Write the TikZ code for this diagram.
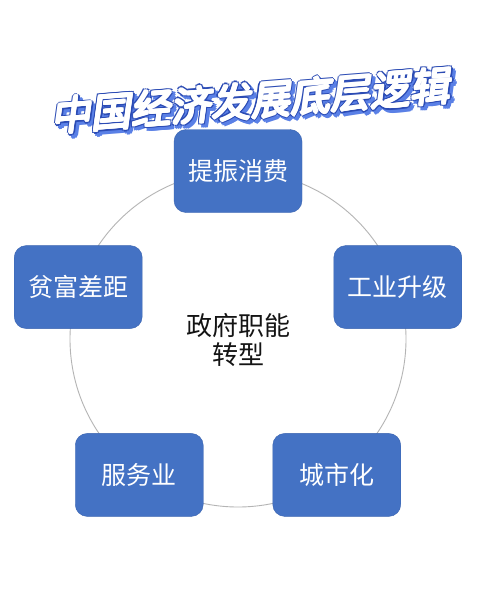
\documentclass[tikz,border=0pt]{standalone}
\usepackage{fontspec}
\usetikzlibrary{calc}
\newfontfamily\cjk{Noto Sans CJK SC}
\newfontfamily\cjktitle[FakeSlant=0.22]{Noto Sans CJK SC}
\definecolor{boxfill}{HTML}{4472C4}
\definecolor{boxborder}{HTML}{3A64B0}
\definecolor{ringgray}{HTML}{B4B4B4}
\definecolor{titleblue}{HTML}{5A80E6}
\definecolor{titlerim}{HTML}{2B4BB4}
\definecolor{centerink}{HTML}{141414}

\begin{document}
\begin{tikzpicture}[x=1pt, y=-1pt,
  box/.style={draw=boxborder, fill=boxfill, rounded corners=12pt, text=white,
    minimum width=128pt, minimum height=83pt, inner sep=0pt,
    font=\cjk\fontsize{25}{29}\selectfont},
  hub/.style={text=centerink, align=center, inner sep=0pt,
    font=\cjk\fontsize{26}{29}\selectfont},
  titletext/.style={font=\cjktitle\fontsize{40}{44}\selectfont, rotate=4.5, inner sep=0pt},
  ring/.style={draw=ringgray, line width=0.9pt}
]
\useasboundingbox[fill=white] (0,0) rectangle (500,600);

% title: blue extrusion, dark rim, thickened white face on top
\coordinate (ttl) at (250,101);
\foreach \a [count=\i] in {0,45,...,315}
  \node[titletext, text=titleblue] (ttlshade\i) at ($(ttl)+(3,3)+(\a:2.4pt)$) {中国经济发展底层逻辑};
\foreach \a [count=\i] in {0,45,...,315}
  \node[titletext, text=titlerim] (ttlrim\i) at ($(ttl)+(\a:2.4pt)$) {中国经济发展底层逻辑};
\foreach \a [count=\i] in {0,45,...,315}
  \node[titletext, text=white] (ttlface\i) at ($(ttl)+(\a:1.1pt)$) {中国经济发展底层逻辑};
\node[titletext, text=white] (title) at (ttl) {中国经济发展底层逻辑};

\node[hub] (gov) at (238,340) {政府职能\\转型};
\draw[ring] (238,339) circle[radius=168pt];

% five boxes on the ring, 72 degrees apart
\node[box] (consume) at ($(238,339)+(90:168pt)$) {提振消费};
\node[box] (industry) at ($(238,339)+(18:168pt)$) {工业升级};
\node[box] (urban) at ($(238,339)+(-54:168pt)$) {城市化};
\node[box] (service) at ($(238,339)+(-126:168pt)$) {服务业};
\node[box] (wealth) at ($(238,339)+(162:168pt)$) {贫富差距};
\end{tikzpicture}
\end{document}
